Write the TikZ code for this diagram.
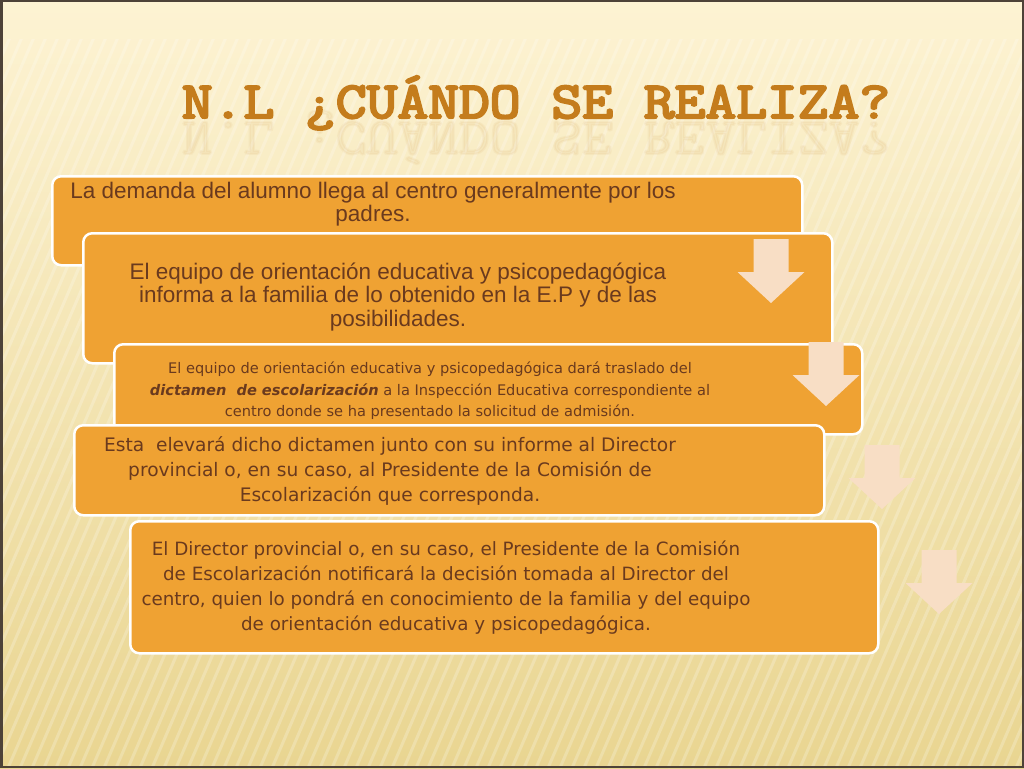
\documentclass[tikz,border=0pt]{standalone}
\usepackage{fontspec}
\setmainfont{Liberation Sans}
\newfontfamily\comicfont{DejaVu Sans}
\newfontfamily\titlefont{Latin Modern Mono}[FakeBold=4]

\definecolor{bgtop}{HTML}{FDF3D3}
\definecolor{bgbot}{HTML}{E9D591}
\definecolor{boxfill}{HTML}{EFA233}
\definecolor{arrowfill}{HTML}{F8DEC5}
\definecolor{txtcol}{HTML}{6A3A1E}
\definecolor{titlecol}{HTML}{C47C1C}
\definecolor{framecol}{HTML}{4D4238}

\tikzset{
  pics/dnarrow/.style={code={
    \fill[arrowfill] (-17.5,0) -- (17.5,0) -- (17.5,33) -- (33.5,33) -- (0,64)
      -- (-33.5,33) -- (-17.5,33) -- cycle;}}
}

\begin{document}
\begin{tikzpicture}[x=1pt, y=-1pt,
      every node/.style = {text=txtcol},
      box/.style = {draw=white, line width=2.5pt, rounded corners=9pt,
        fill=boxfill, anchor=north west, inner sep=0pt},
      sanstext/.style = {align=center, font=\fontsize{22.5}{23.5}\selectfont},
      comictext/.style = {align=center, font=\comicfont\fontsize{18.3}{25}\selectfont},
      titletext/.style = {anchor=base, text=titlecol, xscale=1.15, transform shape,
        font=\titlefont\fontsize{52}{52}\selectfont},
      stripe/.style = {white, opacity=.22, line width=3pt}]
  \useasboundingbox (0,0) rectangle (1024,768);
  \shade[top color=bgtop, bottom color=bgbot] (0,0) rectangle (1024,768);
  \begin{scope}
    \clip (0,40) rectangle (1024,768);
    \foreach \s in {-400,-388,...,1024}
      \draw[stripe] (\s,768) -- (\s+330,0);
  \end{scope}
  \draw[framecol, line width=2.5pt] (1.25,1.25) rectangle (1022.75,766.75);

  \node[titletext, opacity=.06, yscale=-1] (ttlr) at (536,122)
        {N.L ¿CUÁNDO SE REALIZA?};
  \node[titletext] (ttl) at (536,118) {N.L ¿CUÁNDO SE REALIZA?};

  \node[box, minimum width=750pt, minimum height=89pt] (b1) at (51,175) {};
  \node[sanstext] (t1) at (373,204)
    {La demanda del alumno llega al centro generalmente por los\\ padres.};

  \node[box, minimum width=749pt, minimum height=130pt] (b2) at (82,232) {};
  \node[sanstext] (t2) at (398,297)
    {El equipo de orientación educativa y psicopedagógica\\
     informa a la familia de lo obtenido en la E.P y de las\\ posibilidades.};
  \pic at (771,239) {dnarrow};

  \node[box, minimum width=748pt, minimum height=90pt] (b3) at (113,343) {};
  \node[comictext, font=\comicfont\fontsize{14.6}{21.5}\selectfont] (t3) at (430,391)
    {El equipo de orientación educativa y psicopedagógica dará traslado del\\
     \textbf{\textit{dictamen\ \ de escolarización}} a la Inspección Educativa correspondiente al\\
     centro donde se ha presentado la solicitud de admisión.};
  \pic at (826,342) {dnarrow};

  \node[box, minimum width=750pt, minimum height=90pt] (b4) at (73,424) {};
  \node[comictext, font=\comicfont\fontsize{18.6}{25}\selectfont] (t4) at (390,471)
    {Esta\ \ elevará dicho dictamen junto con su informe al Director\\
     provincial o, en su caso, al Presidente de la Comisión de\\
     Escolarización que corresponda.};
  \pic at (882,445) {dnarrow};

  \node[box, minimum width=748pt, minimum height=132pt] (b5) at (129,520) {};
  \node[comictext] (t5) at (446,588)
    {El Director provincial o, en su caso, el Presidente de la Comisión\\
     de Escolarización notificará la decisión tomada al Director del\\
     centro, quien lo pondrá en conocimiento de la familia y del equipo\\
     de orientación educativa y psicopedagógica.};
  \pic at (939,550) {dnarrow};
\end{tikzpicture}
\end{document}
